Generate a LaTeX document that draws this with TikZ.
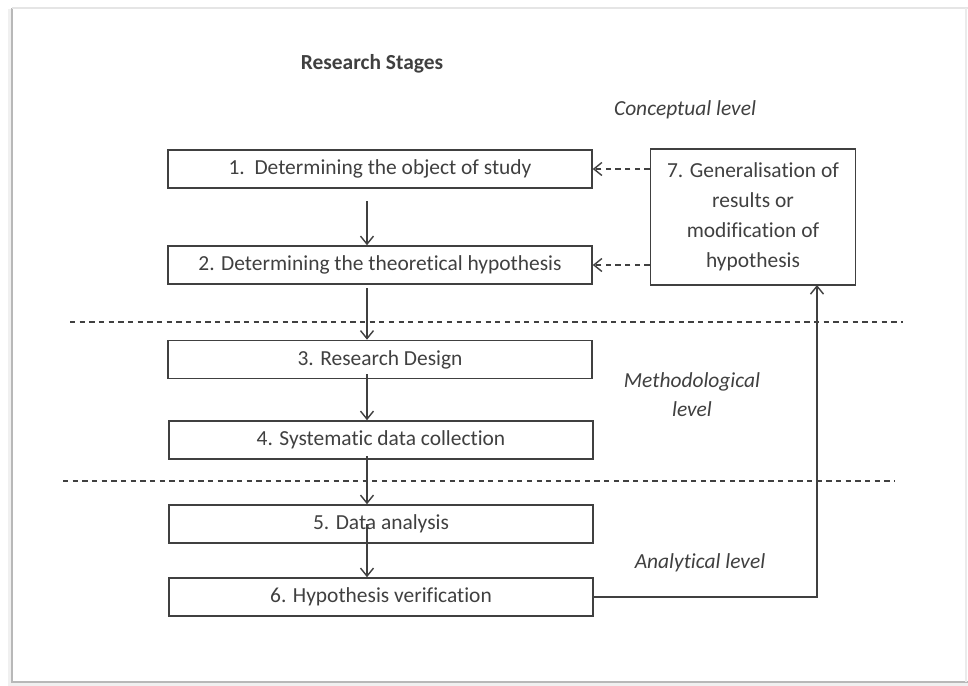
\documentclass[tikz,border=0pt]{standalone}
\usepackage{fontspec}
\setmainfont[Ligatures=NoCommon]{Carlito}
\usepackage{tikz}
\usetikzlibrary{arrows.meta,positioning}

\begin{document}
\begin{tikzpicture}[x=0.02cm, y=-0.02cm,
    every node/.style={font=\fontsize{12.2}{17}\selectfont, text=black!75},
    stagebox/.style={draw=black!75, line width=0.9pt, rectangle, minimum width=8.48cm, minimum height=0.76cm, inner sep=0pt, align=center},
    feedbox/.style={draw=black!75, line width=0.9pt, rectangle, minimum width=4.1cm, minimum height=2.72cm, inner sep=0pt, align=center},
    levellabel/.style={font=\fontsize{12.2}{16.4}\selectfont\itshape, align=center},
    flow/.style={->, line width=0.8pt, draw=black!75, >={Straight Barb[length=1.6mm, width=2.6mm]}},
    back/.style={flow, dashed, dash pattern=on 3pt off 2.5pt},
    divider/.style={draw=black!75, line width=0.7pt, dash pattern=on 3pt off 2.5pt}
  ]
        % Page frame with a soft shadow
        \useasboundingbox (0,0) rectangle (968,686);
        \fill[black!6] (8,9) rectangle (968,686);
        \fill[white] (13,9) rectangle (968,681);
        \draw[black!28, line width=1.4pt] (12,8) -- (12,682) -- (968,682);
        \draw[black!10, line width=0.8pt] (12,8) -- (968,8);
        \draw[black!8, line width=0.8pt] (966,8) -- (966,682);

        % Title and level labels
        \node[font=\fontsize{12.2}{14}\selectfont\bfseries] (title) at (372,64) {Research Stages};
        \node[levellabel] (concept) at (685,110) {Conceptual level};
        \node[levellabel] (method) at (692,395) {Methodological\\level};
        \node[levellabel] (analytic) at (700,563) {Analytical level};

        % Stage boxes
        \node[stagebox] (s1) at (380,169) {1.\ \ Determining the object of study};
        \node[stagebox] (s2) at (380,265) {2. Determining the theoretical hypothesis};
        \node[stagebox] (s3) at (380,359.5) {3. Research Design};
        \node[stagebox] (s4) at (381,440) {4. Systematic data collection};
        \node[stagebox] (s5) at (381,524) {5. Data analysis};
        \node[stagebox] (s6) at (381,597) {6. Hypothesis verification};
        \node[feedbox] (s7) at (753,217) {7. Generalisation of\\results or\\modification of\\hypothesis};

        % Level dividers
        \draw[divider] (70,322) -- (903,322);
        \draw[divider] (63,481) -- (895,481);

        % Downward flow
        \coordinate (ax) at (367,0);
        \draw[flow] ([yshift=-7pt]s1.south -| ax) -- (s2.north -| ax);
        \draw[flow] ([yshift=-2pt]s2.south -| ax) -- (s3.north -| ax);
        \draw[flow] ([yshift=3pt]s3.south -| ax) -- (s4.north -| ax);
        \draw[flow] ([yshift=2pt]s4.south -| ax) -- (s5.north -| ax);
        \draw[flow] (s5.center -| ax) -- (s6.north -| ax);

        % Feedback
        \coordinate (fb) at (817,285);
        \draw[flow] (s6.east) -| (fb);
        \draw[back] (s7.west |- s1) -- (s1.east);
        \draw[back] (s7.west |- s2) -- (s2.east);
    \end{tikzpicture}
\end{document}
